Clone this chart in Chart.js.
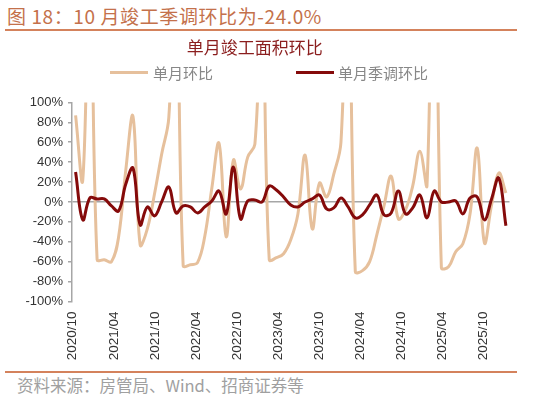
<!DOCTYPE html>
<html><head><meta charset="utf-8">
<script src="https://cdn.jsdelivr.net/npm/chart.js@4.4.0/dist/chart.umd.min.js"></script>
<style>
html,body{margin:0;padding:0;background:#fff;}
#wrap{position:relative;width:547px;height:399px;overflow:hidden;background:#fff;font-family:"Noto Sans CJK SC",sans-serif;}
#hdr{position:absolute;left:7px;top:3px;font-size:19px;line-height:26px;color:#C4714B;white-space:nowrap;letter-spacing:0.6px;}
.rule{position:absolute;left:5px;width:512px;height:2px;background:#D4825C;}
#cv{position:absolute;left:0;top:35px;}
.lg{position:absolute;top:64px;height:18px;font-size:15px;line-height:18px;color:#878787;white-space:nowrap;}
.sw{position:absolute;top:71px;height:3px;width:38px;}
#src{position:absolute;left:17px;top:375px;font-size:16.5px;line-height:21px;color:#A0A0A0;white-space:nowrap;}
</style></head>
<body><div id="wrap">
<div id="hdr">图 18：10 月竣工季调环比为-24.0%</div>
<div class="rule" style="top:29px"></div>
<canvas id="cv" width="547" height="335"></canvas>
<div id="legend"></div>
<div class="rule" style="top:371px"></div>
<div id="src">资料来源：房管局、Wind、招商证券等</div>
</div>
<script>
const months = ['2020/10','2020/11','2020/12',
 '2021/01','2021/02','2021/03','2021/04','2021/05','2021/06','2021/07','2021/08','2021/09','2021/10','2021/11','2021/12',
 '2022/01','2022/02','2022/03','2022/04','2022/05','2022/06','2022/07','2022/08','2022/09','2022/10','2022/11','2022/12',
 '2023/01','2023/02','2023/03','2023/04','2023/05','2023/06','2023/07','2023/08','2023/09','2023/10','2023/11','2023/12',
 '2024/01','2024/02','2024/03','2024/04','2024/05','2024/06','2024/07','2024/08','2024/09','2024/10','2024/11','2024/12',
 '2025/01','2025/02','2025/03','2025/04','2025/05','2025/06','2025/07','2025/08','2025/09','2025/10'];
const tickLabels = ['2020/10','2021/04','2021/10','2022/04','2022/10','2023/04','2023/10','2024/04','2024/10','2025/04','2025/10'];
// 单月环比 (%)
const momRaw = [87,22,260,
 -58,-58,-60,-35,32,86,-43,-27,8,48,85,260,
 -64,-63,-61,-35,14,59,-35,42,13,45,58,210,
 -58,-56,-52,-38,-12,47,-27,19,5,28,60,270,
 -70,-69,-60,-33,-4,26,-17,-8,16,51,17,380,
 -66,-65,-50,-42,-12,54,-41,-3,29,9];
// 单月季调环比 (%)
const momSA = [30,-18,4,
 3,3,-4,-9,18,34,-23,-5,-14,0,15,-11,
 -4,-5,-11,-5,1,11,-12,35,-17,1,2,0,
 16,12,5,-3,-5,0,3,7,-7,-6,4,-5,
 -16,-13,-3,7,-13,-11,11,-12,-6,7,-16,11,
 0,0,1,-12,4,5,-18,3,24,-24];
const seriesNames = ['单月环比','单月季调环比'];
const seriesColors = ['#E6C09C','#850A0A'];
const legendSwatchX = [110,296];
const legendTextX = [153,338];

const lg = document.getElementById('legend');
seriesNames.forEach((n,i)=>{
  const s=document.createElement('div');s.className='sw';s.style.left=legendSwatchX[i]+'px';s.style.background=seriesColors[i];lg.appendChild(s);
  const t=document.createElement('div');t.className='lg';t.style.left=legendTextX[i]+'px';t.textContent=n;lg.appendChild(t);
});

new Chart(document.getElementById('cv').getContext('2d'), {
  type:'line',
  data:{labels:months, datasets:[
    {label:seriesNames[0], data:momRaw, borderColor:seriesColors[0], borderWidth:3, pointRadius:0, tension:0.4, order:2, fill:false, xAxisID:'x', yAxisID:'y'},
    {label:seriesNames[1], data:momSA, borderColor:seriesColors[1], borderWidth:3, pointRadius:0, tension:0.4, order:1, fill:false, xAxisID:'x', yAxisID:'y'}
  ]},
  options:{
    responsive:false, animation:false, devicePixelRatio:1,
    layout:{padding:{left:0,right:37.5,top:0,bottom:0}},
    plugins:{
      legend:{display:false}, tooltip:{enabled:false},
      title:{display:true,text:'单月竣工面积环比',color:'#8B1E1E',font:{family:'Noto Sans CJK SC',size:17,weight:'normal'},padding:{top:2,bottom:45}}
    },
    scales:{
      x:{type:'category',display:false,offset:true},
      xl:{type:'linear',position:'bottom',min:-0.017,max:10.628,
        grid:{display:false,drawTicks:false},border:{display:false},
        afterBuildTicks:s=>{s.ticks=tickLabels.map((t,k)=>({value:k}));},
        afterFit:s=>{s.height=68.5;},
        ticks:{autoSkip:false,maxRotation:90,minRotation:90,padding:10,color:'#333',
          font:{family:'Liberation Sans, Arial',size:13.5},callback:v=>tickLabels[v]??''}},
      y:{min:-100,max:100,afterFit:s=>{s.width=72;},
        ticks:{stepSize:20,padding:5,color:'#333',font:{family:'Liberation Sans, Arial',size:13},callback:v=>v+'%'},
        grid:{color:c=>(c.tick&&c.tick.value===0)?'#A6A6A6':'rgba(0,0,0,0)',tickColor:'#A6A6A6',lineWidth:1.5,tickLength:4,drawTicks:true},
        border:{display:true,color:'#A6A6A6',width:1.5}}
    }
  }
});
</script>
</body></html>
